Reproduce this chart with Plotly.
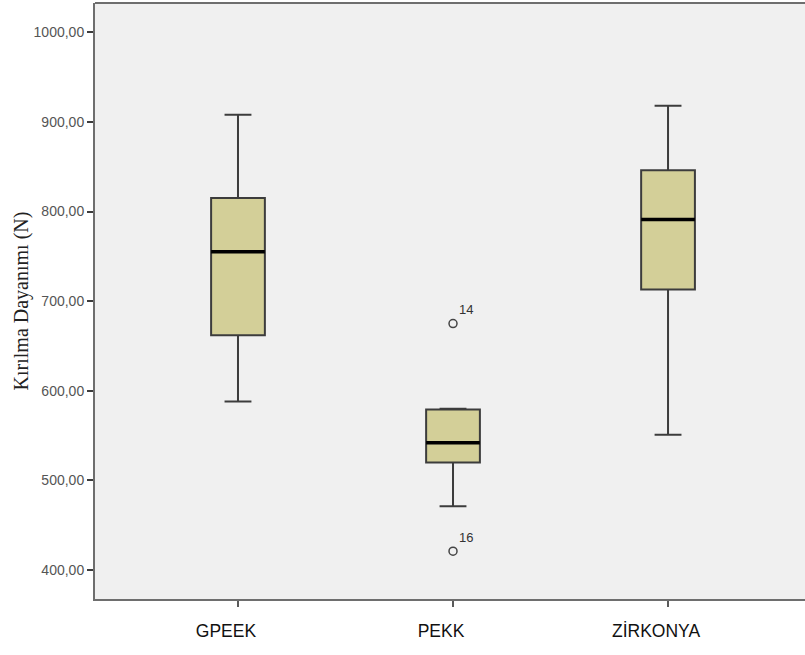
import plotly.graph_objects as go

groups = ["GPEEK", "PEKK", "ZİRKONYA"]
lower_whisker = [588, 471, 551]
q1 = [662, 520, 713]
median = [755, 542, 791]
q3 = [815, 579, 846]
upper_whisker = [908, 580, 918]

outlier_group = [1, 1]
outlier_values = [675, 421]
outlier_labels = ["14", "16"]

y_ticks = [400, 500, 600, 700, 800, 900, 1000]

fig = go.Figure()
for i, g in enumerate(groups):
    fig.add_trace(go.Box(
        x=[i], q1=[q1[i]], median=[median[i]], q3=[q3[i]],
        lowerfence=[lower_whisker[i]], upperfence=[upper_whisker[i]],
        width=0.25, whiskerwidth=0.5,
        fillcolor="rgb(211,207,152)",
        line=dict(color="rgb(60,60,60)", width=2),
        boxpoints=False, showlegend=False, hoverinfo="skip",
    ))
    # thicker median line
    fig.add_trace(go.Scatter(
        x=[i - 0.125, i + 0.125], y=[median[i], median[i]],
        mode="lines", line=dict(color="black", width=3.5),
        showlegend=False, hoverinfo="skip",
    ))

fig.add_trace(go.Scatter(
    x=outlier_group, y=outlier_values, mode="markers+text",
    text=outlier_labels, textposition="top right",
    textfont=dict(family="Liberation Sans, Arial", size=13, color="#333"),
    marker=dict(symbol="circle-open", size=8, color="#444", line=dict(width=1.5)),
    showlegend=False, hoverinfo="skip",
))

fig.add_shape(type="line", xref="paper", yref="paper", x0=0, x1=1, y0=1, y1=1,
              line=dict(color="rgb(110,110,110)", width=2))

fig.update_layout(
    width=805, height=655,
    margin=dict(l=95, r=0, t=3, b=56),
    paper_bgcolor="white",
    plot_bgcolor="rgb(240,240,240)",
    separators=",.",
    xaxis=dict(
        range=[-0.665, 2.637], tickvals=[0, 1, 2], ticktext=groups,
        showgrid=False, zeroline=False, showline=True,
        linecolor="rgb(110,110,110)", linewidth=2,
        ticks="outside", ticklen=6, tickwidth=1.5, tickcolor="rgb(90,90,90)",
        tickfont=dict(family="Liberation Sans, Arial", size=17.5, color="#111"),
        ticklabelstandoff=9, ticklabelshift=-12,
    ),
    yaxis=dict(
        range=[367.6, 1032.7], tickvals=y_ticks, tickformat=".2f",
        showgrid=False, zeroline=False, showline=True,
        linecolor="rgb(110,110,110)", linewidth=2,
        ticks="outside", ticklen=6, tickwidth=1.5, tickcolor="rgb(60,60,60)",
        tickfont=dict(family="Liberation Sans, Arial", size=14, color="#555"),
        automargin=False,
        title=dict(text="Kırılma Dayanımı (N)", standoff=0,
                   font=dict(family="Liberation Serif, Times New Roman", size=20, color="#222")),
    ),
)

fig.write_html("out.html", config={"displayModeBar": False},
               post_script="document.body.style.margin='0';document.body.style.overflow='hidden';")
